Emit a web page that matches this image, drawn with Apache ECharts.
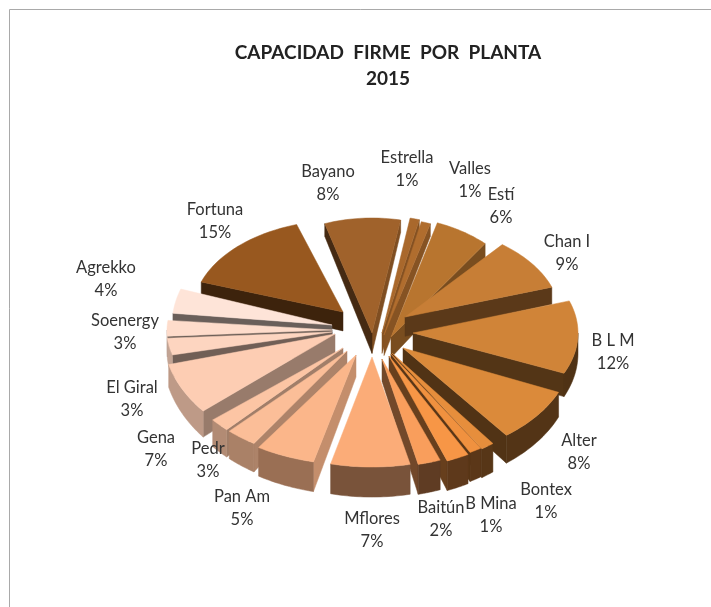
<!DOCTYPE html>
<html><head><meta charset="utf-8">
<style>html,body{margin:0;padding:0;background:#fff}#c{width:711px;height:607px}</style>
<script src="https://cdn.jsdelivr.net/npm/echarts@6/dist/echarts.min.js"></script>
</head><body><div id="c"></div>
<script>
// ---- data ----
const categories = ['Bayano','Estrella','Valles','Estí','Chan I','B L M','Alter','Bontex','B Mina','','Baitún','Mflores','Pan Am','Pedr','','Gena','El Giral','Soenergy','Agrekko','Fortuna'];
const values = [8.0,1.0,1.0,5.8,9.0,11.8,8.0,1.3,1.2,2.2,2.2,7.3,5.3,2.9,1.9,7.0,3.0,2.8,3.6,14.7];
// ---- layout / style (separate from the data) ----
const faceColors = ['#A0622B','#A9682C','#B06D2E','#B8752F','#C77E36','#D08438','#DB8A3A','#E68E3C','#F0913F','#F79646','#F99E5C','#FBAC78','#FBB68A','#FBBE98','#FCC5A4','#FDCDB3','#FDD5C0','#FEDCCB','#FEE4D8','#98581F'];
// explosion: where each slice's tip lands, and its projected radii
const sliceFrames = [[372,333,153,115],[382,333,150,117],[384,335,150,117],[391,337,150,120],[405,317,155,93],[413,333,165,100],[403,348,170,110],[392,353,166,114],[391,354,166,112],[389,356,166,112],[382,359,166,108],[372,357,175,110],[356,355,180,110],[347,351,172,110],[343,348,170,112],[335,334,172,120],[332,332,165,90],[332,330,165,90],[332,325,160,110],[343,312,150,92]];
const labelAnchors = [[328,183],[407,169],[470,180],[501,206],[567,253],[613,352],[579,452],[546,501],[491,515],null,[441,519],[372,530],[242,508],[208,460],null,[156,449],[132,399],[125,332],[106,279],[215,221]];
const startAngle = -18;

const total = values.reduce((a,b)=>a+b,0);
const angles = []; { let a = startAngle; values.forEach(v=>{ angles.push([a, a+v/total*360]); a += v/total*360; }); }
const rad = d => d*Math.PI/180;
const depthAt = y => 13 + 17*(y-230)/236;
function shade(hex,f){ const n=parseInt(hex.slice(1),16);
  return 'rgb('+[(n>>16)&255,(n>>8)&255,n&255].map(c=>Math.round(c*f)).join(',')+')'; }
function lerpTable(t,x){ if(x<=t[0][0])return t[0][1];
  for(let i=1;i<t.length;i++) if(x<=t[i][0]) return t[i-1][1]+(t[i][1]-t[i-1][1])*(x-t[i-1][0])/(t[i][0]-t[i-1][0]);
  return t[t.length-1][1]; }
const radialShade = [[100,.8],[137,.62],[162,.45],[183,.42],[240,.36],[255,.45],[270,.5]];
const outerShade = [[90,.38],[165,.38],[180,.48],[210,.65],[240,.75],[270,.78]];

function renderItem(params){
  const i = params.dataIndex, f = sliceFrames[i], col = faceColors[i];
  const a0 = angles[i][0], a1 = angles[i][1];
  const [ax,ay,rx,ry] = f;
  const pt = t => [ax+rx*Math.sin(rad(t)), ay-ry*Math.cos(rad(t))];
  const drop = p => [p[0], p[1]+depthAt(p[1])];
  const mid = ((a0+a1)/2+360)%360;
  const base = Math.round(Math.min(mid,360-mid))*10+10;
  const children = [];
  const face = [[ax,ay]];
  const N = 24;
  for(let k=0;k<=N;k++) face.push(pt(a0+(a1-a0)*k/N));
  const add = (pts,fill,z)=>children.push({type:'polygon',shape:{points:pts},style:{fill:fill,stroke:fill,lineWidth:.5},z2:z});
  const n0 = (a0+360)%360, n1 = (a1+360)%360;
  if(n1>0 && n1<180){ const c=pt(a1);
    add([[ax,ay],c,drop(c),drop([ax,ay])], shade(col,lerpTable(radialShade,n1+90)), base); }
  if(n0>180 && n0<360){ const c=pt(a0);
    add([[ax,ay],c,drop(c),drop([ax,ay])], shade(col,lerpTable(radialShade,n0-90)), base); }
  const lo = Math.max(a0,90), hi = Math.min(a1,270);
  if(hi>lo){ const top=[],bot=[];
    for(let k=0;k<=N;k++){ const p=pt(lo+(hi-lo)*k/N); top.push(p); bot.unshift(drop(p)); }
    add(top.concat(bot), shade(col,lerpTable(outerShade,(lo+hi)/2)), base+1); }
  add(face,col,base+2);
  const anchor = labelAnchors[i];
  if(anchor && categories[i]){
    children.push({type:'text',z2:9999,style:{x:anchor[0],y:anchor[1],
      text:categories[i]+'\n'+Math.round(values[i]/total*100)+'%',
      textAlign:'center',textVerticalAlign:'middle',fill:'#333',
      font:'16.5px Lato',lineHeight:23}});
  }
  return {type:'group',children};
}

const chart = echarts.init(document.getElementById('c'),null,{renderer:'canvas'});
chart.setOption({
  animation:false,
  backgroundColor:'#fff',
  title:{text:'CAPACIDAD  FIRME  POR  PLANTA\n2015',left:383,top:35,textAlign:'center',
    textStyle:{fontFamily:'Lato',fontWeight:'bold',fontSize:19,color:'#222',lineHeight:26}},
  graphic:[{type:'polyline',silent:true,shape:{points:[[711,9.5],[9.5,9.5],[9.5,607]]},style:{stroke:'#a9a9a9',fill:null,lineWidth:1}}],
  series:[{type:'custom',coordinateSystem:'none',renderItem:renderItem,
    data:categories.map((c,i)=>({name:c,value:[values[i]]}))}]
});
</script></body></html>
